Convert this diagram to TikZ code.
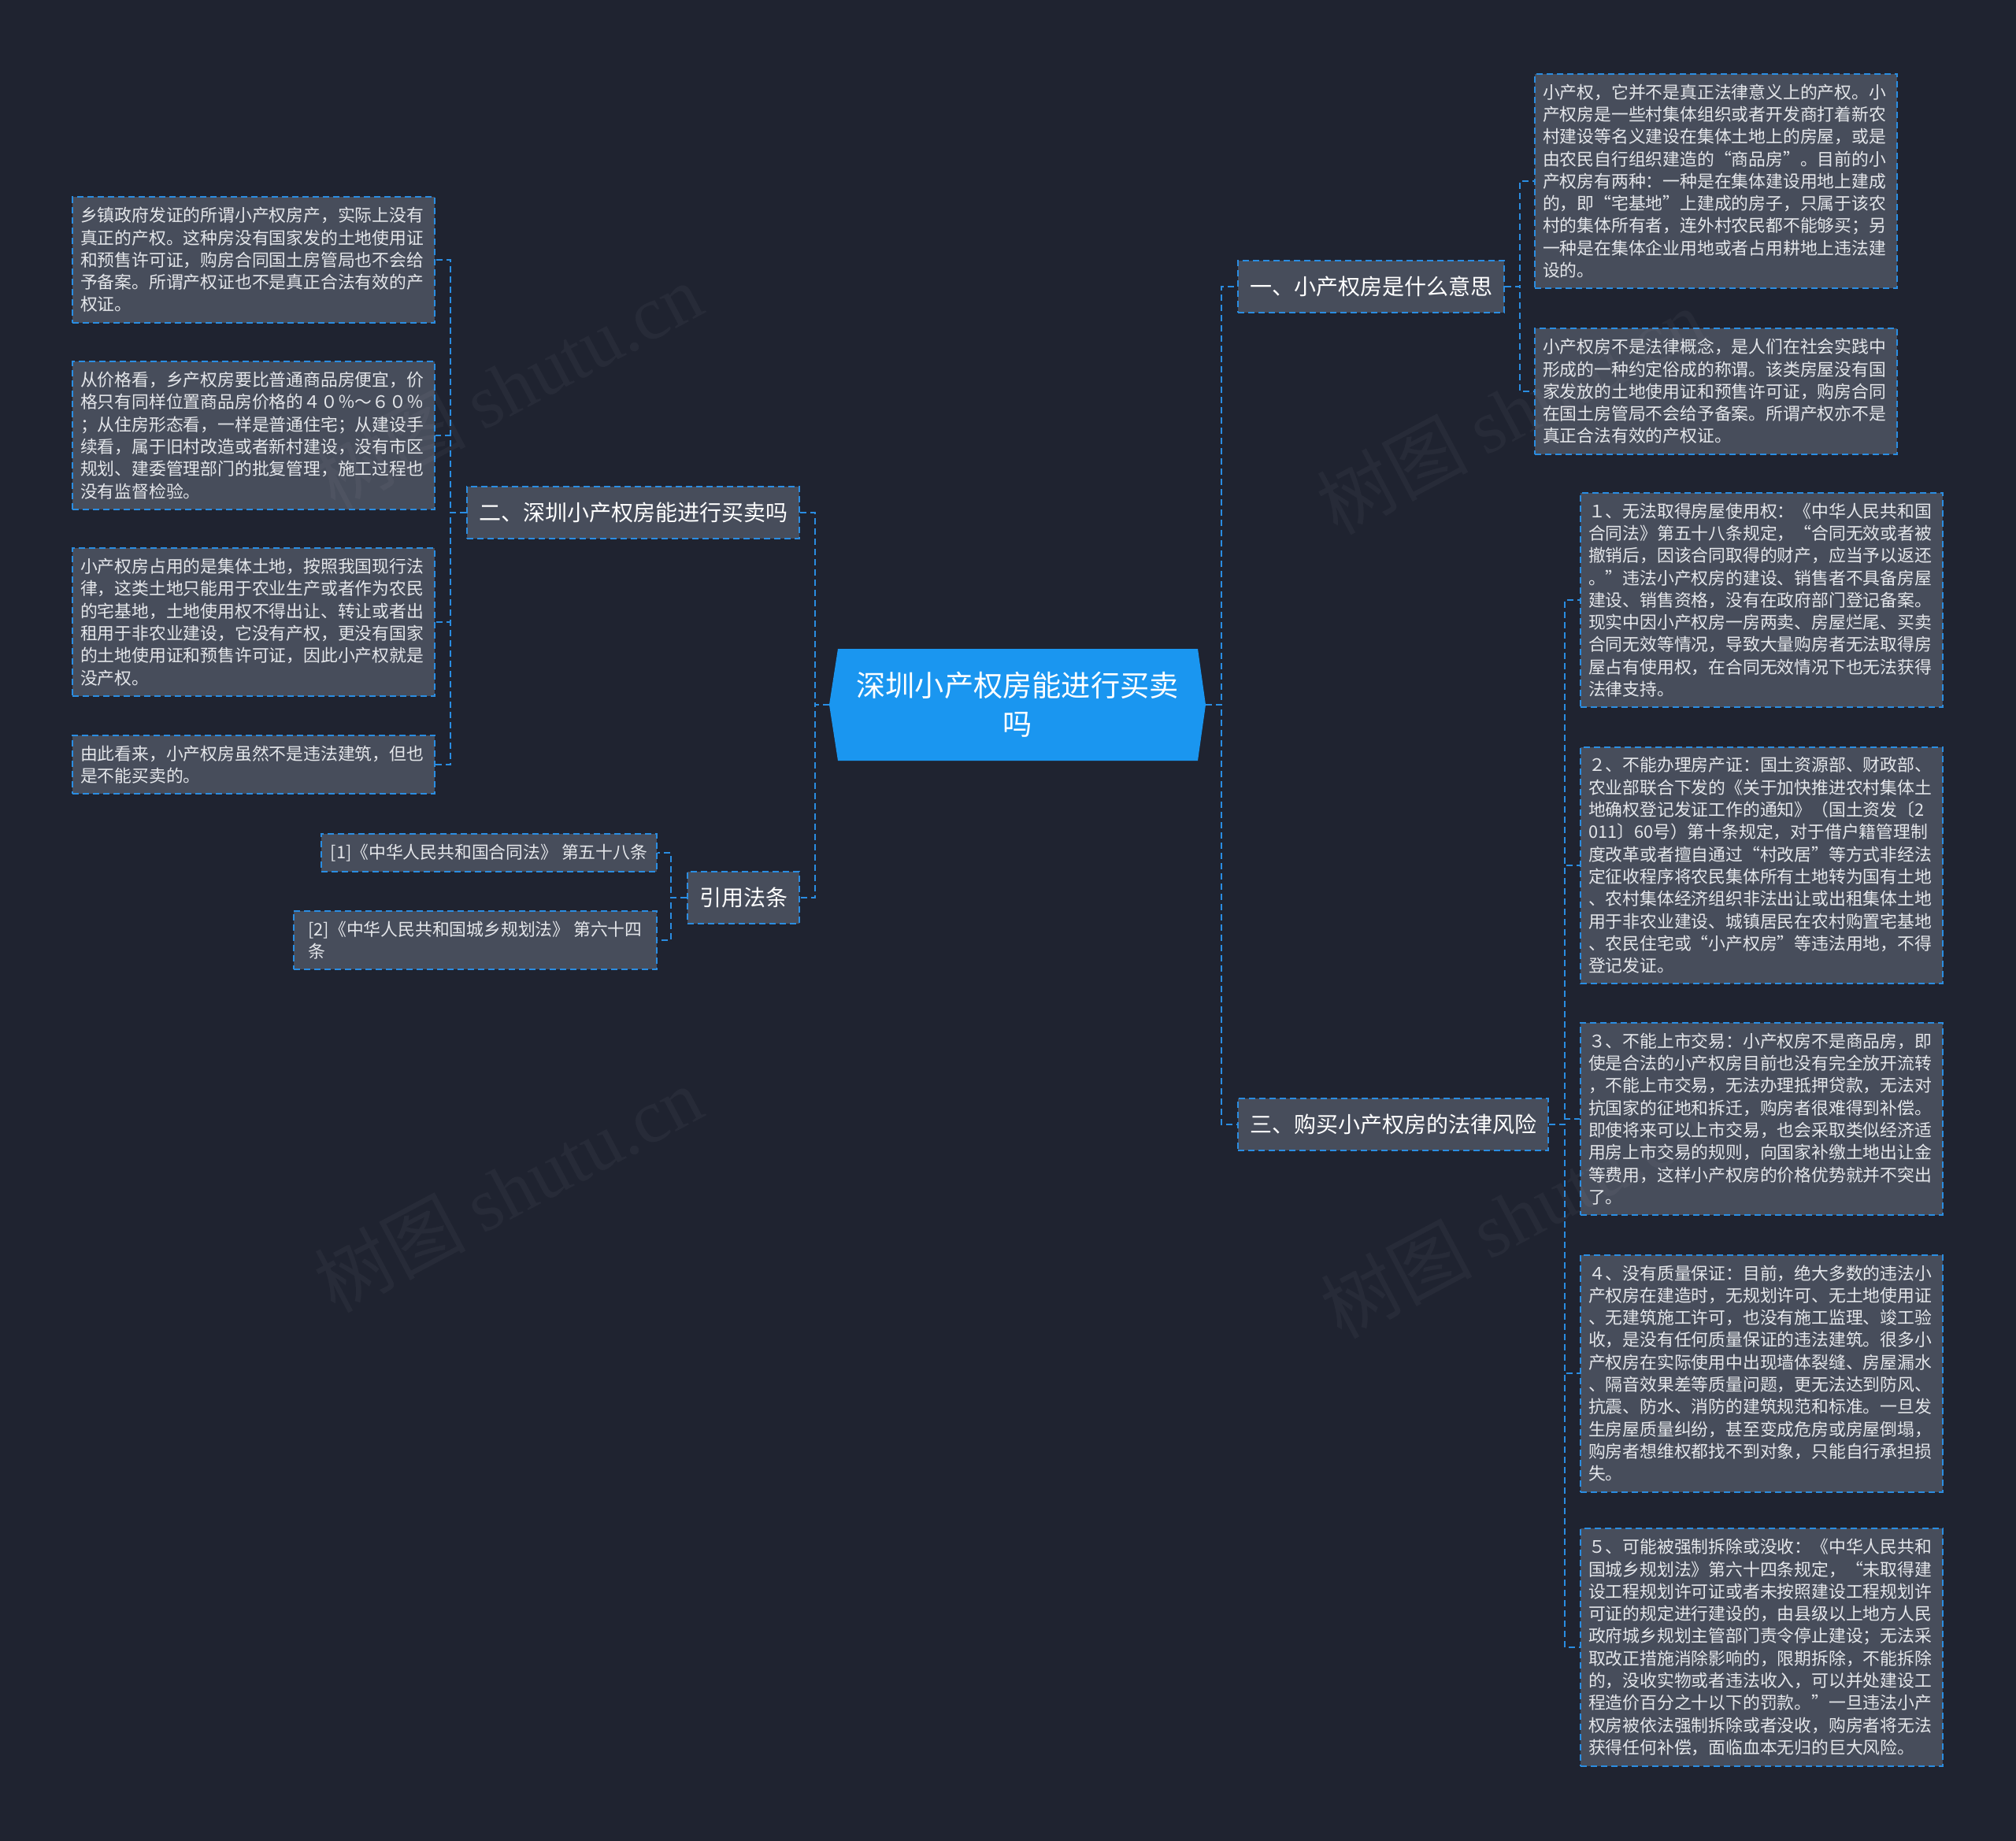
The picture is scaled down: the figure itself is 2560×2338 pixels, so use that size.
\documentclass[tikz,border=0pt]{standalone}
\usepackage{fontspec}
\setmainfont{Noto Sans CJK SC}
\newfontfamily\latinserif{Liberation Serif}
\usepackage{xcolor}
\usetikzlibrary{positioning}

\definecolor{fondo}{HTML}{1F2330}
\definecolor{caja}{HTML}{474D5B}
\definecolor{linea}{HTML}{2A8DE2}
\definecolor{centro}{HTML}{1A96F0}
\definecolor{texto}{HTML}{E4E6EA}

\tikzset{
  rama/.style={rectangle,draw=linea,fill=caja,line width=1pt,dash pattern=on 4pt off 2.5pt,
    text=white,font=\fontsize{14pt}{17pt}\selectfont,minimum height=33pt,inner xsep=7.5pt},
  hoja/.style={rectangle,draw=linea,fill=caja,line width=1pt,dash pattern=on 4pt off 2.5pt,
    text=texto,font=\fontsize{10.9pt}{14.15pt}\selectfont,text width=220pt,align=left,
    inner xsep=5pt,inner ysep=6.5pt},
  cita/.style={hoja,text width=,align=left,inner xsep=6pt},
  enlace/.style={draw=linea,line width=1pt,dash pattern=on 4pt off 2.5pt},
  marca/.style={text=white,opacity=0.04,font=\fontsize{48pt}{50pt}\selectfont,rotate=28}
}

\newcommand{\agua}{树图 {\latinserif shutu.cn}}

\begin{document}
\begin{tikzpicture}[x=0.5pt,y=-0.5pt]
  \useasboundingbox (0,0) rectangle (2560,2338);
  \fill[fondo] (0,0) rectangle (2560,2338);

  % centro
  \fill[centro] (1053,895) -- (1064,824) -- (1521,824) -- (1531,895) -- (1521,966) -- (1064,966) -- cycle;
  \node[text=white,font=\fontsize{18.6pt}{24.5pt}\selectfont,align=center,minimum width=239pt,minimum height=71pt] (c) at (1292,895) {深圳小产权房能进行买卖\\吗};

  % ramas
  \node[rama,anchor=west] (b1) at (1571,364) {一、小产权房是什么意思};
  \node[rama,anchor=west] (b3) at (1571,1428) {三、购买小产权房的法律风险};
  \node[rama,anchor=east] (b2) at (1016,651) {二、深圳小产权房能进行买卖吗};
  \node[rama,anchor=east] (b4) at (1016,1140) {引用法条};

  % hojas de la izquierda
  \node[hoja,anchor=east] (h1) at (553,330) {乡镇政府发证的所谓小产权房产，实际上没有\\真正的产权。这种房没有国家发的土地使用证\\和预售许可证，购房合同国土房管局也不会给\\予备案。所谓产权证也不是真正合法有效的产\\权证。};
  \node[hoja,anchor=east] (h2) at (553,553) {从价格看，乡产权房要比普通商品房便宜，价\\格只有同样位置商品房价格的４０％～６０％\\；从住房形态看，一样是普通住宅；从建设手\\续看，属于旧村改造或者新村建设，没有市区\\规划、建委管理部门的批复管理，施工过程也\\没有监督检验。};
  \node[hoja,anchor=east] (h3) at (553,790) {小产权房占用的是集体土地，按照我国现行法\\律，这类土地只能用于农业生产或者作为农民\\的宅基地，土地使用权不得出让、转让或者出\\租用于非农业建设，它没有产权，更没有国家\\的土地使用证和预售许可证，因此小产权就是\\没产权。};
  \node[hoja,anchor=east] (h4) at (553,971) {由此看来，小产权房虽然不是违法建筑，但也\\是不能买卖的。};

  \node[cita,anchor=east] (l1) at (835,1083) {[1]《中华人民共和国合同法》 第五十八条};
  \node[cita,anchor=east,minimum width=230.5pt] (l2) at (835,1194) {[2]《中华人民共和国城乡规划法》 第六十四\\条};

  % hojas de la derecha
  \node[hoja,anchor=west] (d1) at (1948,230) {小产权，它并不是真正法律意义上的产权。小\\产权房是一些村集体组织或者开发商打着新农\\村建设等名义建设在集体土地上的房屋，或是\\由农民自行组织建造的“商品房”。目前的小\\产权房有两种：一种是在集体建设用地上建成\\的，即“宅基地”上建成的房子，只属于该农\\村的集体所有者，连外村农民都不能够买；另\\一种是在集体企业用地或者占用耕地上违法建\\设的。};
  \node[hoja,anchor=west] (d2) at (1948,497) {小产权房不是法律概念，是人们在社会实践中\\形成的一种约定俗成的称谓。该类房屋没有国\\家发放的土地使用证和预售许可证，购房合同\\在国土房管局不会给予备案。所谓产权亦不是\\真正合法有效的产权证。};

  \node[hoja,anchor=west] (r1) at (2006,762) {１、无法取得房屋使用权：《中华人民共和国\\合同法》第五十八条规定，“合同无效或者被\\撤销后，因该合同取得的财产，应当予以返还\\。”违法小产权房的建设、销售者不具备房屋\\建设、销售资格，没有在政府部门登记备案。\\现实中因小产权房一房两卖、房屋烂尾、买卖\\合同无效等情况，导致大量购房者无法取得房\\屋占有使用权，在合同无效情况下也无法获得\\法律支持。};
  \node[hoja,anchor=west] (r2) at (2006,1099) {２、不能办理房产证：国土资源部、财政部、\\农业部联合下发的《关于加快推进农村集体土\\地确权登记发证工作的通知》（国土资发〔2\\011〕60号）第十条规定，对于借户籍管理制\\度改革或者擅自通过“村改居”等方式非经法\\定征收程序将农民集体所有土地转为国有土地\\、农村集体经济组织非法出让或出租集体土地\\用于非农业建设、城镇居民在农村购置宅基地\\、农民住宅或“小产权房”等违法用地，不得\\登记发证。};
  \node[hoja,anchor=west] (r3) at (2006,1421) {３、不能上市交易：小产权房不是商品房，即\\使是合法的小产权房目前也没有完全放开流转\\，不能上市交易，无法办理抵押贷款，无法对\\抗国家的征地和拆迁，购房者很难得到补偿。\\即使将来可以上市交易，也会采取类似经济适\\用房上市交易的规则，向国家补缴土地出让金\\等费用，这样小产权房的价格优势就并不突出\\了。};
  \node[hoja,anchor=west] (r4) at (2006,1744) {４、没有质量保证：目前，绝大多数的违法小\\产权房在建造时，无规划许可、无土地使用证\\、无建筑施工许可，也没有施工监理、竣工验\\收，是没有任何质量保证的违法建筑。很多小\\产权房在实际使用中出现墙体裂缝、房屋漏水\\、隔音效果差等质量问题，更无法达到防风、\\抗震、防水、消防的建筑规范和标准。一旦发\\生房屋质量纠纷，甚至变成危房或房屋倒塌，\\购房者想维权都找不到对象，只能自行承担损\\失。};
  \node[hoja,anchor=west] (r5) at (2006,2092) {５、可能被强制拆除或没收：《中华人民共和\\国城乡规划法》第六十四条规定，“未取得建\\设工程规划许可证或者未按照建设工程规划许\\可证的规定进行建设的，由县级以上地方人民\\政府城乡规划主管部门责令停止建设；无法采\\取改正措施消除影响的，限期拆除，不能拆除\\的，没收实物或者违法收入，可以并处建设工\\程造价百分之十以下的罚款。”一旦违法小产\\权房被依法强制拆除或者没收，购房者将无法\\获得任何补偿，面临血本无归的巨大风险。};

  % enlaces
  \draw[enlace] (c.west) -- ++(-18,0) |- (b2.east);
  \draw[enlace] (c.west) -- ++(-18,0) |- (b4.east);
  \draw[enlace] (c.east) -- ++(20,0) |- (b1.west);
  \draw[enlace] (c.east) -- ++(20,0) |- (b3.west);
  \foreach \h in {h1,h2,h3,h4}
    \draw[enlace] (b2.west) -- ++(-20,0) |- (\h.east);
  \foreach \h in {l1,l2}
    \draw[enlace] (b4.west) -- ++(-20,0) |- (\h.east);
  \foreach \h in {d1,d2}
    \draw[enlace] (b1.east) -- ++(19,0) |- (\h.west);
  \foreach \h in {r1,r2,r3,r4,r5}
    \draw[enlace] (b3.east) -- ++(20,0) |- (\h.west);

  % marcas de agua
  \node[marca] (m1) at (645,490) {\agua};
  \node[marca] (m2) at (645,1510) {\agua};
  \node[marca] (m3) at (1918,522) {\agua};
  \node[marca] (m4) at (1923,1543) {\agua};
\end{tikzpicture}
\end{document}
